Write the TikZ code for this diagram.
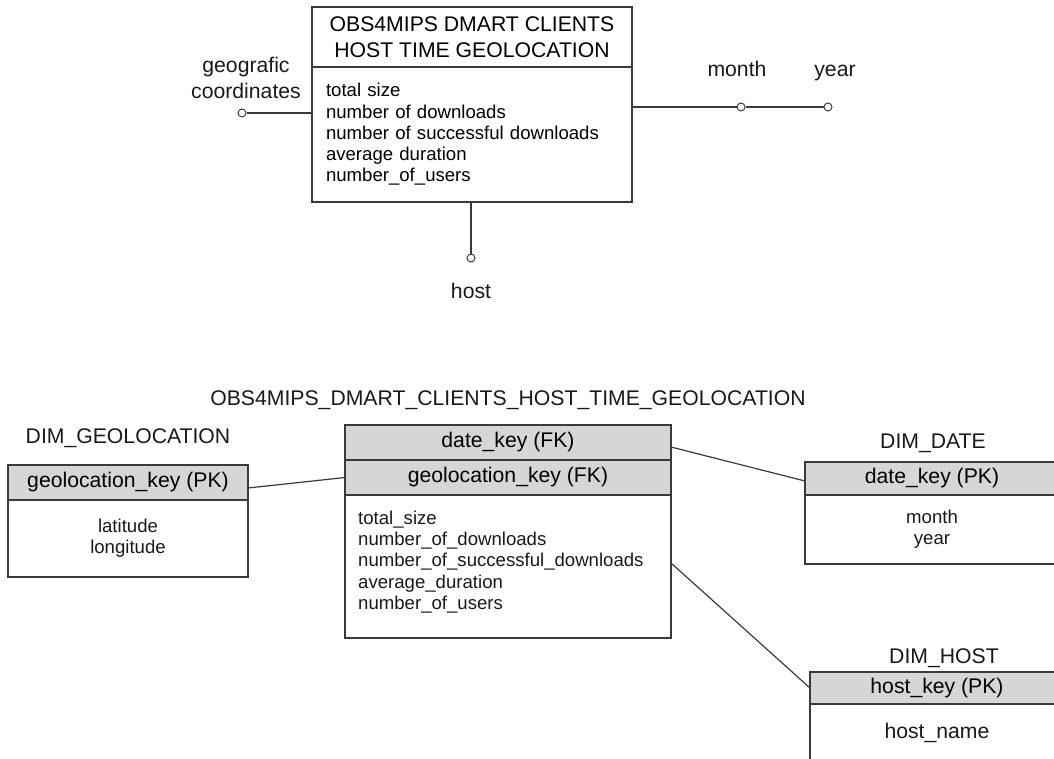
\documentclass[tikz,border=0pt]{standalone}
\usepackage{fontspec}
\setmainfont{Liberation Sans}
\usetikzlibrary{positioning}
\definecolor{edge}{HTML}{3A3A3A}
\definecolor{keyfill}{HTML}{D6D6D6}
\newcommand{\titlefont}{\fontsize{21.2}{26}\selectfont}
\newcommand{\attrfont}{\fontsize{18.6}{21.3}\selectfont}

\begin{document}
\begin{tikzpicture}[x=1pt,y=-1pt,
  box/.style={draw=edge,line width=1.2pt,inner sep=0pt,outer sep=0pt},
  keyrow/.style={box,fill=keyfill,font=\titlefont},
  lbl/.style={font=\titlefont,inner sep=0pt,text=black!90},
  flat/.style={lbl,text height=15pt,text depth=0pt},
  attr/.style={font=\attrfont,align=left,inner sep=0pt,text=black!90},
  port/.style={circle,draw=edge,fill=white,line width=1pt,minimum size=8pt,inner sep=0pt},
  link/.style={draw=edge,line width=1.2pt}]
\useasboundingbox (0,0) rectangle (1054,758);
\clip (0,0) rectangle (1054,758);
% conceptual schema
\node[box,minimum width=320pt,minimum height=60pt,align=center,font=\titlefont,anchor=north west]
  (facthead) at (312,7) {OBS4MIPS DMART CLIENTS\\HOST TIME GEOLOCATION};
\node[box,minimum width=320pt,minimum height=135pt,below=0pt of facthead,text width=292pt,
  align=left,font=\attrfont] (factbody)
  {total size\\number of downloads\\number of successful downloads\\average duration\\number\_of\_users};
% dimensions
\node[port] (geopt) at (242,113) {};
\node[port] (monthpt) at (741,107) {};
\node[port] (yearpt) at (828,107) {};
\node[port] (hostpt) at (471,258) {};
\draw[link] (geopt) -- (geopt -| factbody.west);
\draw[link] (monthpt -| factbody.east) -- (monthpt) -- (yearpt);
\draw[link] (hostpt |- factbody.south) -- (hostpt);
\node[lbl,align=center] (geolbl) at (246,78) {geografic\\coordinates};
\node[flat] (monthlbl) at (737,69) {month};
\node[flat] (yearlbl) at (835,69) {year};
\node[lbl] (hostlbl) at (471,291) {host};
% logical schema: fact table
\node[lbl] (startitle) at (508,400) {OBS4MIPS\_DMART\_CLIENTS\_HOST\_TIME\_GEOLOCATION};
\node[keyrow,minimum width=326pt,minimum height=35pt,anchor=north west] (fdate) at (345,425) {date\_key (FK)};
\node[keyrow,minimum width=326pt,minimum height=35pt,below=0pt of fdate] (fgeo) {geolocation\_key (FK)};
\node[box,minimum width=326pt,minimum height=143pt,below=0pt of fgeo] (fbody) {};
\node[attr,below right=15.5pt and 13pt of fbody.north west] (fattr)
  {total\_size\\number\_of\_downloads\\number\_of\_successful\_downloads\\average\_duration\\number\_of\_users};
% dimension tables
\node[lbl] (gtitle) at (128,438) {DIM\_GEOLOCATION};
\node[keyrow,minimum width=240pt,minimum height=35pt,anchor=north west] (ghead) at (8,465) {geolocation\_key (PK)};
\node[box,minimum width=240pt,minimum height=77pt,below=0pt of ghead,align=center,font=\attrfont,
  text=black!90] (gbody) {latitude\\longitude};
\node[lbl] (dtitle) at (933,443) {DIM\_DATE};
\node[keyrow,minimum width=254pt,minimum height=33pt,anchor=north west] (dhead) at (805,462) {date\_key (PK)};
\node[box,minimum width=254pt,minimum height=69pt,below=0pt of dhead,align=center,font=\attrfont,
  text=black!90] (dbody) {month\\year};
\node[lbl] (htitle) at (944,658) {DIM\_HOST};
\node[keyrow,minimum width=254pt,minimum height=32pt,anchor=north west] (hhead) at (810,672) {host\_key (PK)};
\node[box,minimum width=254pt,minimum height=58pt,below=0pt of hhead,font=\titlefont,
  text=black!90] (hbody) {host\_name};
% references
\draw[link] ([yshift=-5.5pt]ghead.east) -- (fgeo.west);
\draw[link] ([yshift=-4.5pt]fdate.east) -- ([yshift=-2.5pt]dhead.west);
\draw[link] ([yshift=3.5pt]fbody.east) -- (hhead.west);
\end{tikzpicture}
\end{document}
